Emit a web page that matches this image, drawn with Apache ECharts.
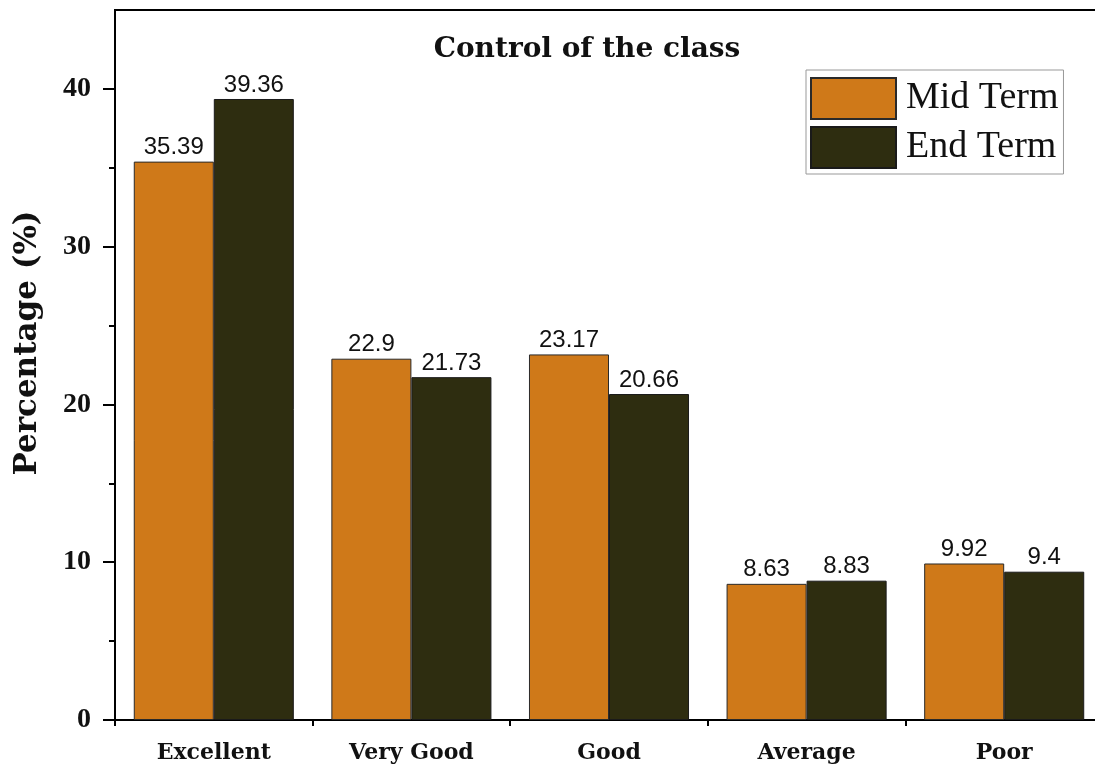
<!DOCTYPE html>
<html>
<head>
<meta charset="utf-8">
<script src="https://cdn.jsdelivr.net/npm/echarts@6/dist/echarts.min.js"></script>
<style>html,body{margin:0;padding:0;background:#fff;}#c{width:1095px;height:772px;}</style>
</head>
<body>
<div id="c"></div>
<script>
const categories = ['Excellent', 'Very Good', 'Good', 'Average', 'Poor'];
const midTerm = [35.39, 22.9, 23.17, 8.63, 9.92];
const endTerm = [39.36, 21.73, 20.66, 8.83, 9.4];
const yTicks = [0, 10, 20, 30, 40];

const chart = echarts.init(document.getElementById('c'));
const serifBold = {fontFamily: 'DejaVu Serif', fontWeight: 'bold', color: '#111'};
const labelStyle = {show: true, position: 'top', distance: 2, fontFamily: 'Liberation Sans', fontSize: 24, color: '#111'};
chart.setOption({
  backgroundColor: '#fff',
  animation: false,
  title: {
    text: 'Control of the class',
    left: 582, top: 31, textAlign: 'center',
    textStyle: Object.assign({fontSize: 28}, serifBold)
  },
  legend: {
    orient: 'vertical', left: 806, top: 70,
    itemWidth: 85, itemHeight: 41, itemGap: 6,
    icon: 'rect',
    padding: [7, 5, 5, 4],
    backgroundColor: '#fff', borderColor: '#999', borderWidth: 1,
    textStyle: {fontFamily: 'Liberation Serif', fontSize: 38, color: '#111', lineHeight: 41, padding: [0, 0, 0, 5]},
    data: ['Mid Term', 'End Term']
  },
  grid: {left: 115, width: 988, top: 10, bottom: 52, outerBoundsMode: 'none', containLabel: false,
    show: true, borderColor: '#000', borderWidth: 2, backgroundColor: 'transparent'},
  xAxis: [{
    type: 'category', data: categories,
    axisLine: {lineStyle: {color: '#000', width: 2}},
    axisTick: {alignWithLabel: true, length: 10, lineStyle: {color: '#000', width: 2}},
    axisLabel: Object.assign({fontSize: 22, margin: 22}, serifBold)
  }, {
    type: 'category', data: categories, position: 'bottom',
    axisLine: {show: false},
    axisTick: {show: true, alignWithLabel: false, length: 6, lineStyle: {color: '#000', width: 2}},
    axisLabel: {show: false}
  }],
  yAxis: {
    type: 'value', min: 0, max: 45, interval: 10,
    name: 'Percentage (%)', nameLocation: 'middle', nameGap: 72,
    nameTextStyle: Object.assign({fontSize: 31, padding: [0, 0, 0, 44]}, serifBold),
    axisLine: {show: true, lineStyle: {color: '#000', width: 2}},
    axisTick: {show: true, length: 12, customValues: yTicks, lineStyle: {color: '#000', width: 2}},
    minorTick: {show: true, splitNumber: 2, length: 6, lineStyle: {color: '#000', width: 2}},
    splitLine: {show: false},
    axisLabel: {
      fontFamily: 'Liberation Serif', fontWeight: 'bold', fontSize: 28, color: '#111', margin: 24,
      customValues: yTicks,
      formatter: v => yTicks.indexOf(v) >= 0 ? String(v) : ''
    }
  },
  series: [{
    name: 'Mid Term', type: 'bar', data: midTerm,
    barGap: '0%', barCategoryGap: '19%',
    itemStyle: {color: '#CF7919', borderColor: '#2a2a2a', borderWidth: 1},
    label: labelStyle
  }, {
    name: 'End Term', type: 'bar', data: endTerm,
    barGap: '0%', barCategoryGap: '19%',
    itemStyle: {color: '#2E2D10', borderColor: '#1a1a1a', borderWidth: 1},
    label: labelStyle
  }]
});
</script>
</body>
</html>
